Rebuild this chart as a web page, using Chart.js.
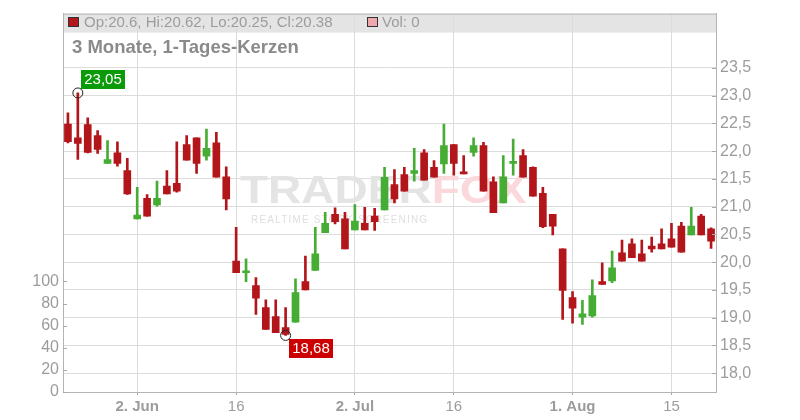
<!DOCTYPE html>
<html lang="de">
<head>
<meta charset="UTF-8">
<title>3 Monate, 1-Tages-Kerzen</title>
<script src="https://cdn.jsdelivr.net/npm/chart.js@4.4.1/dist/chart.umd.min.js"></script>
<style>
  html, body { margin: 0; padding: 0; background: #fff; }
</style>
</head>
<body>
<canvas id="chart" width="800" height="420"></canvas>
<script>
// trading days (May 22 - Aug 21, 2025)
const days = [
  '2025-05-22','2025-05-23','2025-05-26','2025-05-27','2025-05-28','2025-05-29','2025-05-30',
  '2025-06-02','2025-06-03','2025-06-04','2025-06-05','2025-06-06','2025-06-09','2025-06-10',
  '2025-06-11','2025-06-12','2025-06-13','2025-06-16','2025-06-17','2025-06-18','2025-06-19',
  '2025-06-20','2025-06-23','2025-06-24','2025-06-25','2025-06-26','2025-06-27','2025-06-30',
  '2025-07-01','2025-07-02','2025-07-03','2025-07-04','2025-07-07','2025-07-08','2025-07-09',
  '2025-07-10','2025-07-11','2025-07-14','2025-07-15','2025-07-16','2025-07-17','2025-07-18',
  '2025-07-21','2025-07-22','2025-07-23','2025-07-24','2025-07-25','2025-07-28','2025-07-29',
  '2025-07-30','2025-07-31','2025-08-01','2025-08-04','2025-08-05','2025-08-06','2025-08-07',
  '2025-08-08','2025-08-11','2025-08-12','2025-08-13','2025-08-14','2025-08-15','2025-08-18',
  '2025-08-19','2025-08-20','2025-08-21'
];
const open = [
  22.49,22.24,22.48,22.28,21.78,21.97,21.65,20.78,21.15,21.03,21.37,21.42,22.12,22.24,21.91,22.15,21.54,
  20.02,19.81,19.58,19.18,19.02,18.82,18.92,19.65,19.85,20.53,20.86,20.78,20.58,20.70,20.83,20.94,21.40,
  21.58,21.60,21.97,21.71,21.77,22.12,21.62,21.98,22.10,21.45,21.07,21.78,21.92,21.71,21.24,20.86,20.24,
  19.36,19.01,19.03,19.65,19.66,20.17,20.33,20.15,20.29,20.33,20.42,20.65,20.49,20.83,20.6
];
const high = [
  22.69,23.05,22.60,22.37,22.19,22.17,21.87,21.35,21.22,21.46,21.65,22.17,22.28,22.24,22.40,22.34,21.72,
  20.63,20.06,19.72,19.32,19.32,19.18,19.70,20.11,20.63,20.90,20.98,20.90,21.04,20.99,20.97,21.71,21.67,
  21.71,22.05,22.03,21.83,22.49,22.12,21.92,22.24,22.16,21.54,21.92,22.22,22.03,21.72,21.35,20.86,20.24,
  19.47,19.31,19.68,19.99,20.20,20.40,20.42,20.40,20.45,20.60,20.70,20.72,20.99,20.86,20.62
];
const low = [
  22.15,21.85,21.97,21.96,21.78,21.73,21.22,20.78,20.83,21.01,21.23,21.26,21.84,21.60,21.84,21.53,20.94,
  19.81,19.65,19.06,18.79,18.73,18.68,18.92,19.50,19.85,20.53,20.69,20.24,20.58,20.58,20.57,20.94,21.07,
  21.28,21.46,21.48,21.53,21.60,21.57,21.59,21.91,21.28,20.89,21.07,21.57,21.53,21.19,20.62,20.49,18.97,
  18.90,18.88,19.01,19.60,19.63,20.02,20.08,20.02,20.18,20.24,20.27,20.18,20.49,20.49,20.25
];
const close = [
  22.17,22.14,21.98,22.03,21.85,21.78,21.23,20.85,20.83,21.15,21.23,21.28,21.84,21.78,22.05,21.53,21.14,
  19.81,19.83,19.35,18.79,18.73,18.70,19.45,19.50,20.15,20.70,20.73,20.24,20.74,20.58,20.73,21.53,21.14,
  21.28,21.65,21.48,21.53,22.10,21.78,21.59,22.10,21.28,20.89,21.54,21.80,21.53,21.19,20.64,20.65,19.49,
  19.17,19.07,19.40,19.60,19.90,20.02,20.08,20.02,20.24,20.24,20.27,20.18,20.65,20.49,20.38
];
const lastVolume = 0;

// axis ticks
const xTickDays = ['2025-06-02','2025-06-16','2025-07-02','2025-07-16','2025-08-01','2025-08-15'];
const xTickText = ['2. Jun','16','2. Jul','16','1. Aug','15'];
const xTickBold = [true,false,true,false,true,false];
const priceTicks = [18,18.5,19,19.5,20,20.5,21,21.5,22,22.5,23,23.5];
const volTicks = [0,20,40,60,80,100];

const FONT = "'Liberation Sans', Arial, sans-serif";
const GRAY = '#9c9c9c';
const RED = '#b3161a';
const GREEN = '#46ad34';
const colors = open.map((o, i) => close[i] >= o ? GREEN : RED);
const fmt = v => v.toFixed(2).replace('.', ',');

const decor = {
  id: 'decor',
  beforeDraw(chart) {
    const { ctx, chartArea: a } = chart;
    ctx.save();
    ctx.fillStyle = '#e4e4e4';
    ctx.fillRect(a.left, a.top, a.right - a.left, 19);
    ctx.restore();
  },
  beforeDatasetsDraw(chart) {
    const { ctx } = chart;
    ctx.save();
    // watermark
    ctx.translate(240, 203);
    ctx.scale(1.18, 1);
    ctx.font = 'bold 39px ' + FONT;
    ctx.textBaseline = 'alphabetic';
    ctx.fillStyle = '#e4e4e4';
    ctx.fillText('TRADER', 0, 0);
    const w = ctx.measureText('TRADER').width;
    ctx.fillStyle = '#fbd8db';
    ctx.fillText('FOX', w, 0);
    ctx.restore();
    ctx.save();
    ctx.font = '10px ' + FONT;
    ctx.letterSpacing = '1.2px';
    ctx.fillStyle = '#dedede';
    ctx.fillText('REALTIME STOCK SCREENING', 251, 223);
    ctx.restore();
  },
  afterDraw(chart) {
    const { ctx, chartArea: a, scales } = chart;
    ctx.save();
    // top frame line
    ctx.strokeStyle = '#b4b4b4';
    ctx.lineWidth = 1;
    ctx.beginPath();
    ctx.moveTo(a.left, a.top + 0.5);
    ctx.lineTo(a.right, a.top + 0.5);
    ctx.stroke();
    // inner tick marks
    ctx.strokeStyle = '#aaaaaa';
    ctx.beginPath();
    priceTicks.forEach(v => {
      const y = Math.round(scales.y.getPixelForValue(v)) + 0.5;
      ctx.moveTo(a.right - 4, y); ctx.lineTo(a.right, y);
    });
    volTicks.forEach(v => {
      const y = Math.round(scales.vol.getPixelForValue(v)) + 0.5;
      ctx.moveTo(a.left, y); ctx.lineTo(a.left + 4, y);
    });
    ctx.stroke();

    // legend in header band
    ctx.lineWidth = 1;
    ctx.strokeStyle = '#333';
    ctx.fillStyle = RED;
    ctx.fillRect(68.5, 17.5, 10, 9);
    ctx.strokeRect(68.5, 17.5, 10, 9);
    ctx.fillStyle = '#f1a7ae';
    ctx.fillRect(367.5, 17.5, 10, 9);
    ctx.strokeRect(367.5, 17.5, 10, 9);
    const n = open.length - 1;
    ctx.font = '15px ' + FONT;
    ctx.fillStyle = GRAY;
    ctx.textBaseline = 'alphabetic';
    ctx.fillText('Op:' + open[n] + ', Hi:' + high[n] + ', Lo:' + low[n] + ', Cl:' + close[n], 84, 27);
    ctx.fillText('Vol: ' + lastVolume, 382, 27);

    // title
    ctx.font = 'bold 18.5px ' + FONT;
    ctx.fillStyle = '#8a8a8a';
    ctx.textBaseline = 'middle';
    ctx.fillText('3 Monate, 1-Tages-Kerzen', 72, 48);

    // high / low markers
    const iMax = high.indexOf(Math.max(...high));
    const iMin = low.indexOf(Math.min(...low));
    const marks = [
      { i: iMax, v: high[iMax], bg: '#0a9a0a', dy: -23 },
      { i: iMin, v: low[iMin], bg: '#cc0000', dy: 4 }
    ];
    marks.forEach(m => {
      const x = scales.x.getPixelForValue(m.i);
      const y = scales.y.getPixelForValue(m.v);
      ctx.strokeStyle = '#222';
      ctx.beginPath();
      ctx.arc(x, y, 5, 0, Math.PI * 2);
      ctx.stroke();
      ctx.fillStyle = m.bg;
      ctx.fillRect(Math.round(x + 3), Math.round(y + m.dy), 44, 19);
      ctx.fillStyle = '#fff';
      ctx.font = '15px ' + FONT;
      ctx.textAlign = 'center';
      ctx.textBaseline = 'middle';
      ctx.fillText(fmt(m.v), Math.round(x + 3) + 22, Math.round(y + m.dy) + 10);
      ctx.textAlign = 'left';
    });
    ctx.restore();
  }
};

const ctx = document.getElementById('chart').getContext('2d');
new Chart(ctx, {
  type: 'bar',
  data: {
    labels: days,
    datasets: [
      {
        label: 'wick',
        data: low.map((l, i) => [l, high[i]]),
        backgroundColor: colors,
        barThickness: 2,
        grouped: false,
        order: 2
      },
      {
        label: 'body',
        data: open.map((o, i) => [o, close[i]]),
        backgroundColor: colors,
        barThickness: 7,
        minBarLength: 2,
        grouped: false,
        order: 1
      }
    ]
  },
  options: {
    responsive: false,
    animation: false,
    layout: { padding: { top: 11, left: 0, right: 0, bottom: 0 } },
    plugins: { legend: { display: false }, tooltip: { enabled: false } },
    scales: {
      x: {
        type: 'category',
        offset: true,
        grid: { offset: false, color: '#dcdcdc', tickLength: 3, tickColor: '#aaaaaa' },
        border: { color: '#b4b4b4' },
        afterBuildTicks: s => { s.ticks = xTickDays.map(d => ({ value: days.indexOf(d) })); },
        afterFit: s => { s.height = 28; },
        ticks: {
          autoSkip: false,
          maxRotation: 0,
          padding: 3,
          color: GRAY,
          font: c => ({ family: FONT, size: 15, weight: xTickBold[c.index] ? 'bold' : 'normal' }),
          callback: (v, i) => xTickText[i]
        }
      },
      y: {
        position: 'right',
        min: 17.66,
        max: 24.48,
        grid: { color: '#dcdcdc', drawTicks: false },
        border: { color: '#b4b4b4' },
        afterBuildTicks: s => { s.ticks = priceTicks.map(v => ({ value: v })); },
        afterFit: s => { s.width = 84; },
        ticks: {
          padding: 4,
          color: GRAY,
          font: { family: FONT, size: 16 },
          callback: v => v.toFixed(1).replace('.', ',')
        }
      },
      vol: {
        position: 'left',
        min: 0,
        max: 342.3,
        grid: { display: false, drawTicks: false },
        border: { color: '#b4b4b4' },
        afterBuildTicks: s => { s.ticks = volTicks.map(v => ({ value: v })); },
        afterFit: s => { s.width = 63; },
        ticks: {
          padding: 4,
          color: GRAY,
          font: { family: FONT, size: 16 }
        }
      }
    }
  },
  plugins: [decor]
});
</script>
</body>
</html>
